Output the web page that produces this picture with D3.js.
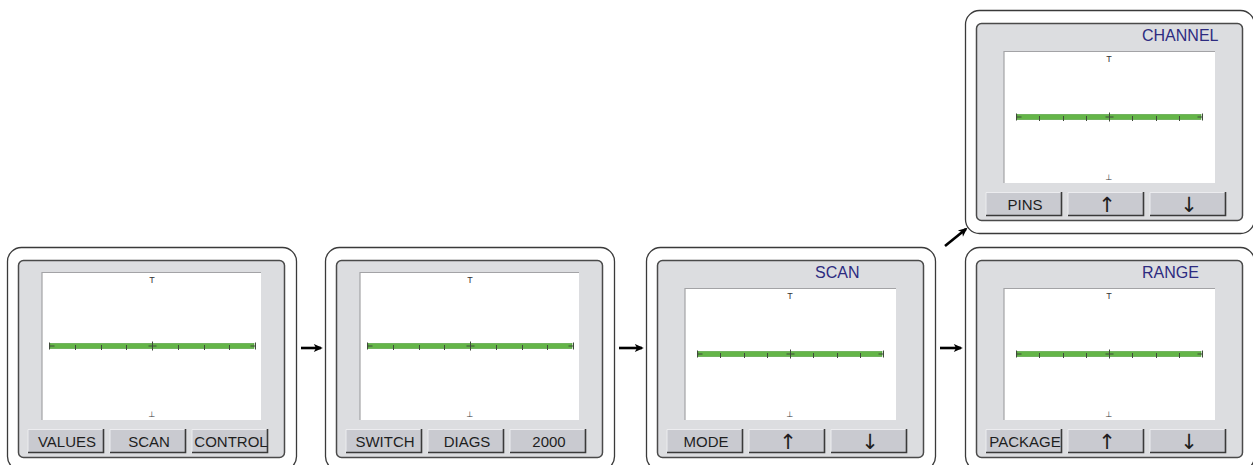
<!DOCTYPE html>
<html><head><meta charset="utf-8">
<script src="https://cdn.jsdelivr.net/npm/d3@7"></script>
<style>html,body{margin:0;padding:0;background:#fff;overflow:hidden}</style>
</head><body>
<script>
// ---- data ----
const screenIds = ["main", "diag", "scan", "range", "channel"];
const screenTitles = ["", "", "SCAN", "RANGE", "CHANNEL"];
const buttonLabels = [
  ["VALUES", "SCAN", "CONTROL"],
  ["SWITCH", "DIAGS", "2000"],
  ["MODE", "\u2191", "\u2193"],
  ["PACKAGE", "\u2191", "\u2193"],
  ["PINS", "\u2191", "\u2193"]
];
const tickValues = [-4, -3, -2, -1, 0, 1, 2, 3, 4];
const flowLinks = [["main", "diag"], ["diag", "scan"], ["scan", "range"], ["scan", "channel"]];

// ---- layout (not data) ----
const W = 1253, H = 465;
const panelLeft = [7, 325, 646, 965, 965];
const panelTop = [247, 247, 247, 247, 10];
const PW = 289, PH = 223;

const svg = d3.select("body").append("svg").attr("width", W).attr("height", H);
const defs = svg.append("defs");
defs.append("marker").attr("id", "ah").attr("viewBox", "0 0 10 10").attr("refX", 8).attr("refY", 5)
  .attr("markerWidth", 10).attr("markerHeight", 9).attr("orient", "auto").attr("markerUnits", "userSpaceOnUse")
  .append("path").attr("d", "M0,0.5 L10,5 L0,9.5 L2.5,5 Z").attr("fill", "#000");

const font = "'Liberation Sans', Arial, sans-serif";

screenIds.forEach((id, i) => {
  const x0 = panelLeft[i], y0 = panelTop[i];
  const titled = screenTitles[i] !== "";
  const g = svg.append("g").attr("transform", `translate(${x0},${y0})`);
  // outer rounded frame
  g.append("rect").attr("x", 0.5).attr("y", 0.5).attr("width", PW).attr("height", PH)
    .attr("rx", 14).attr("fill", "#fff").attr("stroke", "#3a3a3a").attr("stroke-width", 1.3);
  // inner grey panel
  g.append("rect").attr("x", 11.5).attr("y", 13.5).attr("width", 266).attr("height", 197)
    .attr("rx", 5).attr("fill", "#dcdde0").attr("stroke", "#4a4a4a").attr("stroke-width", 1.5);
  // title
  if (titled) {
    g.append("text").attr("x", i === 2 ? 169 : 177).attr("y", 31).text(screenTitles[i])
      .attr("font-family", font).attr("font-size", 16).attr("fill", "#2d2b80");
  }
  // screen
  const sx0 = titled ? 39 : 35, sx1 = titled ? 250 : 254;
  const sy0 = titled ? 41 : 25, sy1 = 173;
  g.append("rect").attr("x", sx0).attr("y", sy0).attr("width", sx1 - sx0).attr("height", sy1 - sy0).attr("fill", "#fff");
  g.append("path").attr("d", `M${sx0},${sy1} V${sy0 + 0.5} H${sx1}`).attr("fill", "none")
    .attr("stroke", "#a3a3a6").attr("stroke-width", 1.2);

  const pad0 = titled ? 12 : 7, pad1 = titled ? 13 : 6;
  const xs = d3.scaleLinear().domain([tickValues[0], tickValues[tickValues.length - 1]]).range([sx0 + pad0, sx1 - pad1]);
  const ys = d3.scaleLinear().domain([1, -1]).range([sy0 + 7, sy1 - 7]);
  const yc = (sy0 + sy1) / 2;

  // markers T / ⊥
  g.append("text").attr("x", xs(0)).attr("y", ys(1) + 3.5).attr("text-anchor", "middle")
    .attr("font-family", font).attr("font-size", 9).attr("fill", "#333").text("T");
  g.append("text").attr("x", xs(0)).attr("y", ys(-1) + 3.5).attr("text-anchor", "middle")
    .attr("font-family", "'DejaVu Sans', sans-serif").attr("font-size", 8).attr("fill", "#333").text("\u22A5");

  // green bar
  g.append("rect").attr("x", xs(-4) + 1).attr("y", yc - 2.5).attr("width", xs(4) - xs(-4) - 2).attr("height", 5)
    .attr("fill", "#64b548").attr("stroke", "#4a9a35").attr("stroke-width", 0.6);
  // ticks
  const tk = g.append("g").attr("stroke", "#3f4a3a").attr("stroke-width", 1);
  tickValues.forEach(v => {
    const tx = Math.round(xs(v)) + 0.5;
    if (v === tickValues[0] || v === tickValues[tickValues.length - 1]) {
      tk.append("line").attr("x1", tx).attr("x2", tx).attr("y1", yc - 3.5).attr("y2", yc + 3.5);
      const dir = v < 0 ? 1 : -1;
      tk.append("line").attr("x1", tx).attr("x2", tx + dir * 5).attr("y1", yc).attr("y2", yc);
    } else if (v === 0) {
      tk.append("line").attr("x1", tx).attr("x2", tx).attr("y1", yc - 4.5).attr("y2", yc + 4.5);
      tk.append("line").attr("x1", tx - 4).attr("x2", tx + 4).attr("y1", yc).attr("y2", yc);
    } else {
      tk.append("line").attr("x1", tx).attr("x2", tx).attr("y1", yc - 1).attr("y2", yc + 4);
    }
  });

  // buttons
  buttonLabels[i].forEach((lab, j) => {
    const bx = 21 + j * 82, by = 182, bw = 76, bh = 24;
    const bg = g.append("g").attr("transform", `translate(${bx},${by})`);
    bg.append("rect").attr("width", bw).attr("height", bh).attr("fill", "#c9cad0");
    bg.append("path").attr("d", `M0,${bh} V0.5 H${bw}`).attr("fill", "none").attr("stroke", "#ececef").attr("stroke-width", 1);
    bg.append("path").attr("d", `M${bw - 0.5},0 V${bh - 0.5} H0`).attr("fill", "none").attr("stroke", "#3a3a3a").attr("stroke-width", 1.6);
    const isArrow = lab === "\u2191" || lab === "\u2193";
    bg.append("text").attr("x", bw / 2 + 1).attr("y", isArrow ? 20 : 18).attr("text-anchor", "middle")
      .attr("font-family", isArrow ? "'DejaVu Sans', sans-serif" : font)
      .attr("font-size", isArrow ? 21 : 15).attr("fill", "#1e1e1e").text(lab);
  });
});

// flow arrows
const idx = id => screenIds.indexOf(id);
flowLinks.forEach(([a, b]) => {
  const ia = idx(a), ib = idx(b);
  let x1, y1, x2, y2;
  if (panelTop[ia] === panelTop[ib]) {
    x1 = panelLeft[ia] + PW + 5; x2 = panelLeft[ib] - 4;
    y1 = y2 = 348;
  } else {
    x1 = panelLeft[ia] + PW + 10; y1 = panelTop[ia] - 1;
    x2 = panelLeft[ib] + 1; y2 = panelTop[ib] + PH - 4;
  }
  svg.append("line").attr("x1", x1).attr("y1", y1).attr("x2", x2).attr("y2", y2)
    .attr("stroke", "#000").attr("stroke-width", 2.6).attr("marker-end", "url(#ah)");
});
</script>
</body></html>
